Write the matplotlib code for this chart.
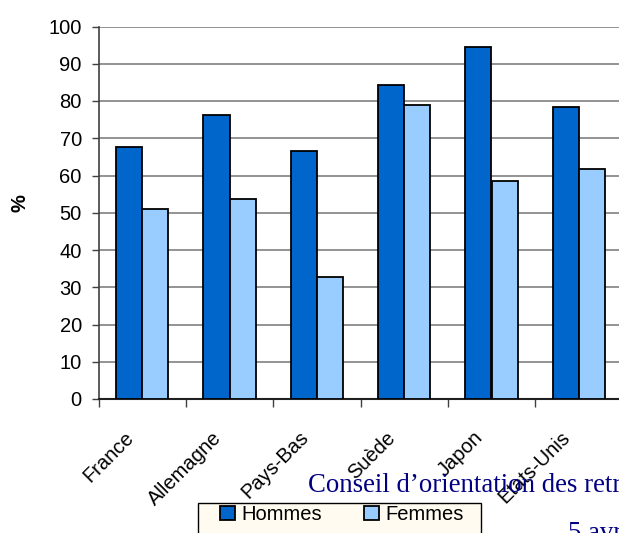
import matplotlib.pyplot as plt
import matplotlib.transforms as mtransforms
from matplotlib.patches import Rectangle
import numpy as np

# Taux d'activite par pays, hommes / femmes (%)
pays = ["France", "Allemagne", "Pays-Bas", "Suède", "Japon", "Etats-Unis"]
hommes = [67.7, 76.2, 66.6, 84.3, 94.5, 78.4]
femmes = [51.0, 53.7, 32.8, 78.9, 58.5, 61.7]
yticks = [0, 10, 20, 30, 40, 50, 60, 70, 80, 90, 100]

W, H = 619, 533
fig = plt.figure(figsize=(W / 100, H / 100), dpi=100)
plt.rcParams["font.family"] = ["Liberation Sans", "DejaVu Sans"]
FS = 14.5

# axes run a little past the right edge of the figure
ax = fig.add_axes([98.5 / W, (H - 399) / H, 524 / W, 372.5 / H])

x = np.arange(len(pays)) + 0.5
bw = 0.3
ax.bar(x - bw / 2, hommes, bw, color="#0066CC", edgecolor="black",
       linewidth=1.3, label="Hommes", zorder=3)
ax.bar(x + bw / 2, femmes, bw, color="#99CCFF", edgecolor="black",
       linewidth=1.3, label="Femmes", zorder=3)

ax.set_xlim(0, len(pays))
ax.set_ylim(0, 100)
ax.set_yticks(yticks)
ax.yaxis.grid(True, color="#808080", linewidth=1.2, zorder=0)
ax.set_axisbelow(True)

for s in ["top", "right"]:
    ax.spines[s].set_visible(False)
ax.spines["left"].set_color("#404040")
ax.spines["bottom"].set_color("#202020")
ax.spines["left"].set_linewidth(1.2)
ax.spines["bottom"].set_linewidth(1.5)

ax.tick_params(axis="y", length=5, width=1, color="#404040",
               labelsize=FS, pad=7)

# category separators as minor ticks, labels on the centres
ax.set_xticks(np.arange(len(pays) + 1), minor=True)
ax.tick_params(axis="x", which="minor", length=6, width=1, color="#404040")
ax.set_xticks(x)
ax.set_xticklabels(pays, fontsize=FS)
ax.tick_params(axis="x", which="major", length=0, pad=0)
offset = mtransforms.ScaledTranslation(-18 / 100, -29 / 100, fig.dpi_scale_trans)
for lab in ax.get_xticklabels():
    lab.set_rotation(45)
    lab.set_rotation_mode("anchor")
    lab.set_ha("right")
    lab.set_va("top")
    lab.set_transform(lab.get_transform() + offset)

fig.text(20 / W, (H - 203) / H, "%", rotation=90, fontsize=FS,
         fontweight="bold", ha="center", va="center")

# legend box, open at the bottom edge of the figure
fig.patches.append(Rectangle((198.3 / W, -0.05), (481 - 198.3) / W,
                             (H - 502.7) / H + 0.05, transform=fig.transFigure,
                             facecolor="#FFFBF0", edgecolor="black",
                             linewidth=1.0, zorder=1))
leg = fig.legend(loc="upper left", bbox_to_anchor=(220 / W, 1 - 505 / H),
                 ncol=2, fontsize=FS, frameon=False,
                 handlelength=0.75, handleheight=0.75, handletextpad=0.3,
                 columnspacing=2.1, borderpad=0, borderaxespad=0)
leg.set_zorder(2)

fig.text(308 / W, (H - 492) / H, "Conseil d’orientation des retraites",
         fontsize=19.3, color="#000080", family="Liberation Serif",
         va="baseline", ha="left")
fig.text(568 / W, (H - 540) / H, "5 avril 2006",
         fontsize=19.3, color="#000080", family="Liberation Serif",
         va="baseline", ha="left")

fig.savefig("out.png", dpi=100)
